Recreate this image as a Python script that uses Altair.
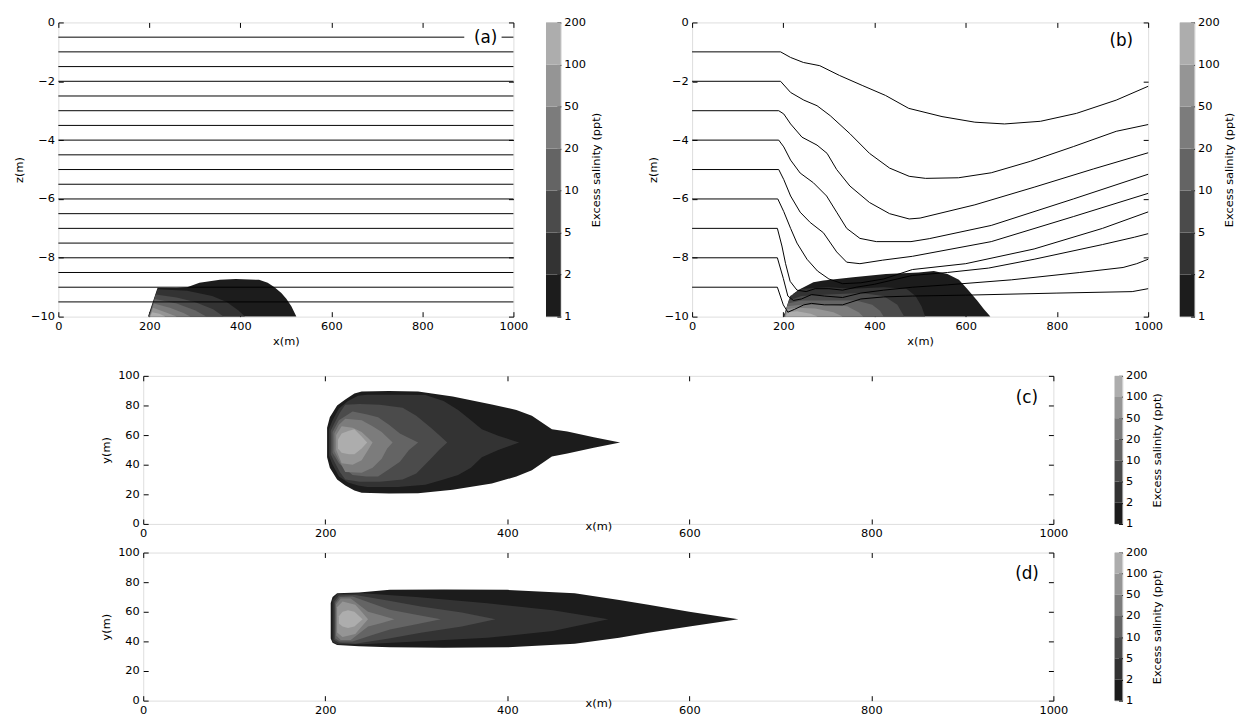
import altair as alt
import pandas as pd

FONT = "DejaVu Sans"
FS = 11.5
TICK = 5
LEVEL_LABELS = ["1", "2", "5", "10", "20", "50", "100", "200"]
LEVEL_COLORS = ["#1c1c1c", "#333333", "#4b4b4b", "#646464", "#7c7c7c", "#959595", "#adadad"]

X_TICKS = [0, 200, 400, 600, 800, 1000]
Z_TICKS = [-10, -8, -6, -4, -2, 0]
Y_TICKS = [0, 20, 40, 60, 80, 100]

# ---------------- panel (a): vertical section, no current ----------------
A_PLUME_X = [
    [197, 218, 260, 283, 310, 355, 390, 441, 460, 475, 490, 501, 512, 523],
    [198, 218, 283, 338, 370, 395, 410],
    [199, 214, 260, 300, 340, 363],
    [200, 212, 260, 300, 325],
    [200, 210, 245, 275, 290],
    [201, 208, 235, 260],
    [202, 206, 222, 235],
]
A_PLUME_TOP = [
    [-10, -9.02, -9.03, -9.0, -8.85, -8.75, -8.72, -8.75, -8.85, -9.0, -9.2, -9.39, -9.65, -10],
    [-10, -9.07, -9.12, -9.3, -9.5, -9.78, -10],
    [-10, -9.25, -9.35, -9.5, -9.75, -10],
    [-10, -9.4, -9.55, -9.78, -10],
    [-10, -9.55, -9.7, -9.88, -10],
    [-10, -9.7, -9.85, -10],
    [-10, -9.85, -9.9, -10],
]
A_LINE_Z = [-0.5, -1.0, -1.5, -2.0, -2.5, -3.0, -3.5, -4.0, -4.5, -5.0,
            -5.5, -6.0, -6.5, -7.0, -7.5, -8.0, -8.5, -9.0, -9.5]
A_LABEL_GAP = [892, 974]

# ---------------- panel (b): vertical section, with current ----------------
B_PLUME_X = [
    [200, 208, 222, 234, 266, 288, 353, 425, 497, 530, 560, 585, 603, 625, 640, 654],
    [201, 215, 240, 300, 350, 420, 470, 490, 503, 511],
    [202, 212, 240, 300, 370, 420, 450, 465],
    [203, 210, 240, 300, 360, 395, 412, 420],
    [203, 208, 240, 300, 340, 365, 375],
    [204, 208, 230, 270, 310, 330],
    [205, 210, 230, 260, 275],
]
B_PLUME_TOP = [
    [-10, -9.7, -9.22, -9.09, -8.83, -8.77, -8.66, -8.55, -8.5, -8.45, -8.55, -8.75, -9.05, -9.45, -9.75, -10],
    [-10, -9.3, -9.05, -9.0, -9.05, -9.0, -9.05, -9.3, -9.65, -10],
    [-10, -9.45, -9.3, -9.25, -9.2, -9.3, -9.6, -10],
    [-10, -9.55, -9.45, -9.45, -9.45, -9.6, -9.8, -10],
    [-10, -9.65, -9.6, -9.6, -9.65, -9.85, -10],
    [-10, -9.75, -9.7, -9.72, -9.85, -10],
    [-10, -9.85, -9.82, -9.9, -10],
]
B_LINE_X = [
    [0, 194, 216, 244, 280, 323, 373, 424, 475, 548, 620, 685, 764, 843, 930, 1000],
    [0, 194, 216, 245, 274, 303, 346, 389, 433, 476, 512, 584, 656, 742, 836, 930, 1000],
    [0, 190, 201, 216, 241, 274, 296, 317, 346, 389, 433, 476, 500, 620, 750, 880, 1000],
    [0, 190, 201, 216, 237, 266, 295, 317, 339, 368, 404, 480, 520, 656, 836, 1000],
    [0, 190, 201, 216, 237, 259, 288, 317, 339, 368, 418, 483, 656, 836, 1000],
    [0, 188, 201, 216, 230, 252, 275, 300, 330, 370, 420, 483, 600, 750, 900, 1000],
    [0, 187, 197, 205, 215, 230, 250, 270, 300, 330, 360, 400, 483, 560, 650, 750, 900, 970, 1000],
    [0, 187, 200, 210, 222, 240, 262, 290, 330, 370, 420, 483, 560, 700, 850, 945, 975, 1000],
    [0, 187, 200, 210, 225, 245, 262, 290, 330, 370, 420, 483, 600, 800, 965, 1000],
]
B_LINE_Z = [
    [-1, -1, -1.19, -1.36, -1.47, -1.8, -2.14, -2.48, -2.92, -3.2, -3.39, -3.45, -3.36, -3.09, -2.64, -2.17],
    [-2, -2, -2.38, -2.64, -2.83, -3.17, -3.78, -4.45, -4.95, -5.23, -5.3, -5.28, -5.11, -4.72, -4.22, -3.7, -3.47],
    [-3, -3, -3.11, -3.45, -3.9, -4.17, -4.45, -5.0, -5.56, -6.12, -6.5, -6.68, -6.65, -6.2, -5.6, -4.98, -4.43],
    [-4, -4, -4.23, -4.68, -5.12, -5.45, -5.9, -6.45, -7.0, -7.34, -7.45, -7.45, -7.35, -6.9, -6.0, -5.16],
    [-5, -5, -5.34, -5.9, -6.45, -6.8, -7.15, -7.8, -8.15, -8.2, -8.08, -7.95, -7.45, -6.6, -5.81],
    [-6, -6, -6.43, -7.0, -7.5, -8.05, -8.45, -8.72, -8.88, -8.85, -8.72, -8.4, -8.2, -7.7, -7.0, -6.44],
    [-7, -7, -7.6, -8.2, -8.8, -9.1, -9.15, -9.05, -9.05, -9.1, -9.0, -8.9, -8.6, -8.5, -8.35, -8.05, -7.55, -7.3, -7.18],
    [-8, -8, -8.7, -9.3, -9.45, -9.4, -9.25, -9.3, -9.35, -9.2, -9.1, -9.0, -8.92, -8.75, -8.5, -8.33, -8.2, -8.05],
    [-9, -9, -9.6, -9.85, -9.75, -9.6, -9.55, -9.6, -9.6, -9.4, -9.33, -9.3, -9.27, -9.2, -9.15, -9.05],
]

# ---------------- panel (c): plan view, no current ----------------
C_PLUME_X = [
    [202, 205, 213, 222, 232, 240, 270, 302, 340, 383, 410, 427, 449, 466, 495, 524],
    [204, 208, 215, 225, 236, 246, 280, 310, 330, 346, 360, 372, 390, 413],
    [206, 210, 216, 222, 238, 260, 285, 300, 316, 325, 334],
    [208, 215, 230, 245, 258, 270, 282, 292, 302],
    [210, 215, 222, 240, 252, 262, 268, 274],
    [212, 218, 230, 240, 247, 252],
    [214, 218, 226, 232, 240, 246],
]
C_PLUME_TOP = [
    [65, 72, 80, 84, 88, 89.5, 89.7, 89.5, 86, 80.7, 77, 73, 64, 62.4, 58.5, 55],
    [64, 70, 78, 83, 86.5, 87.3, 87.3, 87, 83, 77, 70, 64, 59.5, 55],
    [63, 68, 75, 80.5, 81, 80.5, 78.5, 73, 65, 60, 55],
    [62, 70, 76, 74, 72, 67, 61, 58, 55],
    [61, 67, 71, 70, 66, 62, 58.5, 55],
    [60, 66, 65, 62, 58, 55],
    [57, 61, 63, 64, 59, 55],
]
C_PLUME_BOT = [
    [45, 38, 30, 26, 22.5, 21, 20.5, 20.7, 23, 27.3, 32, 36.2, 45.6, 47.5, 51.5, 55],
    [46, 40, 32, 28, 26, 25, 25, 26.5, 30, 33, 38, 45, 50, 55],
    [47, 42, 35, 30, 28.5, 28.5, 30, 34, 44, 50, 55],
    [48, 41, 33, 32, 32, 37, 42, 50, 55],
    [49, 43, 35, 34.5, 38, 44, 51, 55],
    [50, 41, 40, 43, 50, 55],
    [51, 48, 47, 47, 51, 55],
]

# ---------------- panel (d): plan view, with current ----------------
D_PLUME_X = [
    [206, 208, 213, 237, 271, 330, 400, 474, 523, 555, 600, 654],
    [208, 213, 242, 300, 378, 450, 511],
    [210, 215, 233, 270, 305, 350, 387],
    [211, 216, 230, 250, 271, 300, 327],
    [212, 217, 228, 247, 262, 276],
    [213, 219, 233, 240, 247],
    [215, 219, 225, 232, 241],
]
D_PLUME_TOP = [
    [66, 70, 72.5, 73, 74.8, 75, 74.8, 72.5, 68, 64.7, 60, 55],
    [68, 72, 72.5, 70, 65.8, 61, 55],
    [67, 71, 71.4, 67.5, 63.6, 59.5, 55],
    [66, 70, 70.3, 66, 61.4, 58, 55],
    [65, 69, 69, 60, 57.5, 55],
    [63, 67, 64.7, 60, 55],
    [57, 60, 61, 60, 55],
]
D_PLUME_BOT = [
    [42, 39, 37.5, 36.8, 36, 35.7, 36, 38.4, 42.4, 45.8, 50, 55],
    [40, 38, 38, 40, 42.4, 47, 55],
    [41, 39, 38.4, 42, 45.8, 50, 55],
    [42, 40, 40, 44, 48, 51.5, 55],
    [44, 41, 41, 50, 52.5, 55],
    [46, 43, 45, 50, 55],
    [52, 50, 49, 50, 55],
]

PANEL_LABELS = ["(a)", "(b)", "(c)", "(d)"]
LABEL_X = [939, 941, 971, 971]
LABEL_Y = [-0.52, -0.64, 85.3, 85.3]


def plume_frame(xs, tops, bots=None, floor=-10):
    rows = []
    for k, (x, t) in enumerate(zip(xs, tops)):
        b = bots[k] if bots is not None else [floor] * len(x)
        for xi, ti, bi in zip(x, t, b):
            rows.append({"level": k, "x": xi, "top": ti, "bot": bi})
    return pd.DataFrame(rows)


def main_axis(**kw):
    # ticks point inward (matplotlib classic style): axis shifted inside by the tick length
    base = dict(grid=False, ticks=True, tickSize=TICK, offset=-TICK, tickColor="black",
                domain=False, labelFlush=False, labelFont=FONT, titleFont=FONT,
                labelFontSize=FS, titleFontSize=FS, labelColor="black",
                titleColor="black", titleFontWeight="normal", labelPadding=4, format="d")
    base.update(kw)
    return alt.Axis(**base)


def tick_axis(orient, values):
    return alt.Axis(orient=orient, values=values, labels=False, title="", grid=False,
                    ticks=True, tickSize=TICK, offset=-TICK, tickColor="black", domain=False)


def panel(plume_df, lines_df, idx, ydomain, yticks, ytitle, w, h, xaxis_kw):
    xs = alt.Scale(domain=[0, 1000], nice=False, zero=False)
    ys = alt.Scale(domain=ydomain, nice=False, zero=False)
    x_main = alt.X("x:Q", scale=xs, axis=main_axis(values=X_TICKS, title="x(m)", **xaxis_kw))
    y_main = alt.Y("top:Q", scale=ys, axis=main_axis(values=yticks, title=ytitle, titlePadding=6))
    x_none = alt.X("x:Q", scale=xs, axis=None)
    y_none = alt.Y("top:Q", scale=ys, axis=None)
    layers = []
    for k in range(len(LEVEL_COLORS)):
        layers.append(
            alt.Chart(plume_df)
            .transform_filter(alt.datum.level == k)
            .mark_area(color=LEVEL_COLORS[k], opacity=1)
            .encode(x=x_main if k == 0 else x_none, y=y_main if k == 0 else y_none, y2="bot:Q")
        )
    if lines_df is not None:
        layers.append(
            alt.Chart(lines_df)
            .mark_line(color="black", strokeWidth=1)
            .encode(x=x_none, y=y_none, detail="seg:N")
        )
    lab = pd.DataFrame({"x": [LABEL_X[idx]], "top": [LABEL_Y[idx]], "t": [PANEL_LABELS[idx]]})
    layers.append(
        alt.Chart(lab).mark_text(font=FONT, fontSize=17, color="black", baseline="middle", align="center")
        .encode(x=alt.X("x:Q", scale=xs, axis=tick_axis("top", X_TICKS)),
                y=alt.Y("top:Q", scale=ys, axis=tick_axis("right", yticks)),
                text="t:N")
    )
    return (alt.layer(*layers).resolve_axis(x="independent", y="independent")
            .properties(width=w, height=h))


def colorbar(w, h):
    df = pd.DataFrame({"lo": list(range(7)), "hi": list(range(1, 8)), "k": [str(i) for i in range(7)]})
    expr = "[" + ",".join("'%s'" % s for s in LEVEL_LABELS) + "][datum.value]"
    return (
        alt.Chart(df)
        .mark_rect()
        .encode(
            x=alt.value(0), x2=alt.value(w),
            y=alt.Y("lo:Q", scale=alt.Scale(domain=[0, 7], nice=False, zero=False),
                    axis=main_axis(orient="right", values=list(range(8)), labelExpr=expr,
                                   title="Excess salinity (ppt)", titleAngle=270,
                                   titleBaseline="top", labelPadding=3, titlePadding=5,
                                   tickSize=4, offset=-4)),
            y2="hi:Q",
            color=alt.Color("k:N", scale=alt.Scale(domain=[str(i) for i in range(7)], range=LEVEL_COLORS),
                            legend=None),
        )
        .properties(width=w, height=h)
    )


def spacer(w):
    return (
        alt.Chart(pd.DataFrame({"v": [0]}))
        .mark_point(opacity=0)
        .encode(x=alt.X("v:Q", axis=None), y=alt.Y("v:Q", axis=None))
        .properties(width=w, height=1, view=alt.ViewBackground(stroke="transparent"))
    )


# lines for (a)
a_rows = []
for i, z in enumerate(A_LINE_Z):
    if i == 0:
        a_rows += [{"seg": "0a", "x": 0, "top": z}, {"seg": "0a", "x": A_LABEL_GAP[0], "top": z},
                   {"seg": "0b", "x": A_LABEL_GAP[1], "top": z}, {"seg": "0b", "x": 1000, "top": z}]
    else:
        a_rows += [{"seg": str(i), "x": 0, "top": z}, {"seg": str(i), "x": 1000, "top": z}]
a_lines = pd.DataFrame(a_rows)

b_rows = []
for i, (xs_, zs_) in enumerate(zip(B_LINE_X, B_LINE_Z)):
    for xi, zi in zip(xs_, zs_):
        b_rows.append({"seg": str(i), "x": xi, "top": zi})
b_lines = pd.DataFrame(b_rows)

xa_top = dict(titlePadding=4)
xa_cd = dict(titleY=2, titleBaseline="top")

A = panel(plume_frame(A_PLUME_X, A_PLUME_TOP), a_lines, 0, [-10, 0], Z_TICKS, "z(m)", 461, 298, xa_top)
B = panel(plume_frame(B_PLUME_X, B_PLUME_TOP), b_lines, 1, [-10, 0], Z_TICKS, "z(m)", 462, 298, xa_top)
C = panel(plume_frame(C_PLUME_X, C_PLUME_TOP, C_PLUME_BOT), None, 2, [0, 100], Y_TICKS, "y(m)", 922, 150, xa_cd)
D = panel(plume_frame(D_PLUME_X, D_PLUME_TOP, D_PLUME_BOT), None, 3, [0, 100], Y_TICKS, "y(m)", 922, 150, xa_cd)

row1 = alt.hconcat(alt.hconcat(A, colorbar(15, 298), spacing=16),
                   alt.hconcat(B, colorbar(15, 298), spacing=15), spacing=45)
row2 = alt.hconcat(spacer(41), alt.hconcat(C, colorbar(8, 150), spacing=45), spacing=0)
row3 = alt.hconcat(spacer(41), alt.hconcat(D, colorbar(8, 150), spacing=45), spacing=0)

chart = (
    alt.vconcat(row1, alt.vconcat(row2, row3, spacing=6), spacing=21)
    .properties(padding={"left": 5, "top": 3, "right": 0, "bottom": 0})
    .configure_view(stroke="black", strokeWidth=1.2)
    .configure(font=FONT)
)

chart.save("out.html", embed_options={"renderer": "svg", "actions": False})
